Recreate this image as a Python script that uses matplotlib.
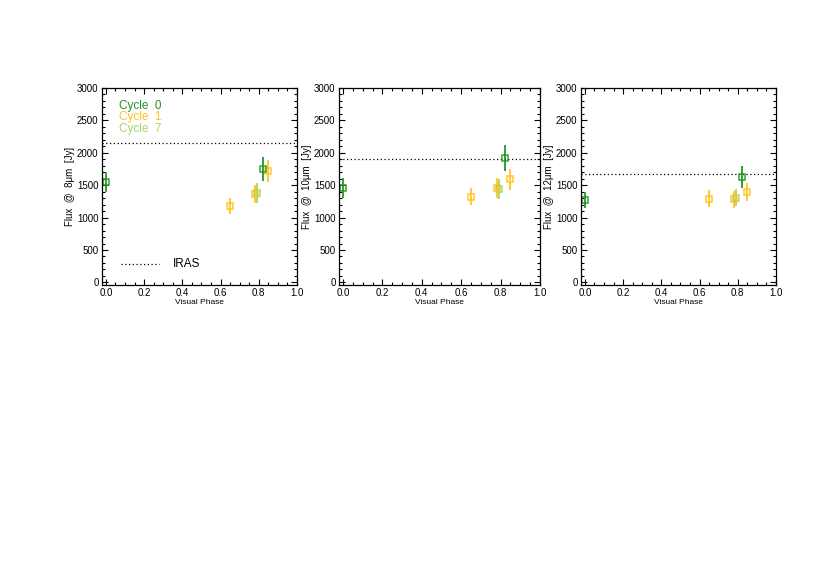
import matplotlib
matplotlib.use("Agg")
import matplotlib.pyplot as plt
from matplotlib.ticker import MultipleLocator

# panel labels / IRAS reference flux
bands = ["8", "10", "12"]
iras_flux = [2150, 1900, 1670]

# cycle 0 (dark green)
c0_phase = [0.0, 0.82]
c0_flux = [[1550, 1755], [1460, 1920], [1270, 1620]]
c0_err = [[155, 185], [150, 200], [120, 170]]

# cycle 1 (gold)
c1_phase = [0.65, 0.78, 0.85]
c1_flux = [[1175, 1370, 1715], [1320, 1460, 1590], [1290, 1280, 1400]]
c1_err = [[120, 140, 170], [130, 150, 160], [130, 130, 140]]

# cycle 7 (light green)
c7_phase = [0.79]
c7_flux = [[1380], [1440], [1310]]
c7_err = [[150], [150], [130]]

DARK = "#1e961e"
GOLD = "#ffc31a"
LIGHT = "#a6d46a"

plt.rcParams["font.family"] = ["Liberation Sans", "DejaVu Sans"]
fig = plt.figure(figsize=(8.3, 5.87), dpi=100)

lefts = [102, 339, 581]
widths = [195, 201, 195]
W, H = 830, 587
bottom, top = 285, 88

for i, band in enumerate(bands):
    ax = fig.add_axes([lefts[i] / W, 1 - bottom / H, widths[i] / W, (bottom - top) / H])
    ax.set_xlim(-0.02, 1.0)
    ax.set_ylim(-40, 3000)

    ax.axhline(iras_flux[i], color="black", ls=(0, (1, 2)), lw=0.9)

    for ph, fl, er, col in [(c7_phase, c7_flux[i], c7_err[i], LIGHT),
                            (c1_phase, c1_flux[i], c1_err[i], GOLD),
                            (c0_phase, c0_flux[i], c0_err[i], DARK)]:
        ax.errorbar(ph, fl, yerr=er, fmt="s", ms=5, mfc="none", mec=col,
                    mew=1.1, ecolor=col, elinewidth=1.4, capsize=0, alpha=0.9)

    ax.xaxis.set_major_locator(MultipleLocator(0.2))
    ax.xaxis.set_minor_locator(MultipleLocator(0.05))
    ax.yaxis.set_major_locator(MultipleLocator(500))
    ax.yaxis.set_minor_locator(MultipleLocator(100))
    ax.tick_params(which="both", direction="in", top=True, right=True,
                   labelsize=7, width=0.8, pad=2.5)
    ax.tick_params(which="major", length=4)
    ax.tick_params(which="minor", length=2)
    ax.set_xticklabels([f"{v:.1f}" for v in ax.get_xticks()])
    for sp in ax.spines.values():
        sp.set_linewidth(0.9)

    ax.set_xlabel("Visual Phase", fontsize=6, labelpad=0.5)
    ax.set_ylabel("Flux  @  %s\u03bcm  [Jy]" % band, fontsize=7, labelpad=1.5)

    if i == 0:
        ax.text(0.07, 2725, "Cycle  0", color=DARK, fontsize=8.5, va="center")
        ax.text(0.07, 2545, "Cycle  1", color=GOLD, fontsize=8.5, va="center")
        ax.text(0.07, 2363, "Cycle  7", color=LIGHT, fontsize=8.5, va="center")
        ax.plot([0.08, 0.28], [290, 290], color="black", ls=(0, (1, 2)), lw=0.9)
        ax.text(0.35, 290, "IRAS", fontsize=8.5, va="center")

fig.savefig("out.png", dpi=100)
